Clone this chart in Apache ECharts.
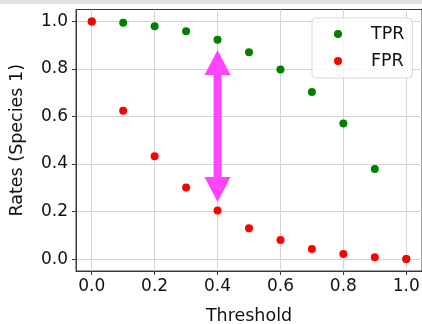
<!DOCTYPE html>
<html>
<head>
<meta charset="utf-8">
<script src="https://cdn.jsdelivr.net/npm/echarts@6/dist/echarts.min.js"></script>
<style>html,body{margin:0;padding:0;background:#fff;}#c{width:422px;height:324px;}</style>
</head>
<body>
<div id="c"></div>
<script>
const thresholds = [0.0, 0.1, 0.2, 0.3, 0.4, 0.5, 0.6, 0.7, 0.8, 0.9, 1.0];
const tprValues = [1.0, 0.994, 0.980, 0.958, 0.923, 0.870, 0.798, 0.703, 0.570, 0.379, 0.0];
const fprValues = [1.0, 0.624, 0.433, 0.301, 0.204, 0.130, 0.080, 0.043, 0.022, 0.008, 0.001];
const xTicks = [0.0, 0.2, 0.4, 0.6, 0.8, 1.0];
const yTicks = [0.0, 0.2, 0.4, 0.6, 0.8, 1.0];
const arrowX = 0.4, arrowFrom = 0.24, arrowTo = 0.88;

const FONT = 'DejaVu Sans';
const chart = echarts.init(document.getElementById('c'), null, {renderer: 'canvas'});

function pairs(xs, ys) { return xs.map((x, i) => [x, ys[i]]); }

const axisCommon = {
  axisLine: {show: true, onZero: false, lineStyle: {color: '#3a3a3a', width: 1}},
  axisTick: {show: true, length: 4, lineStyle: {color: '#3a3a3a', width: 1}},
  splitLine: {show: true, lineStyle: {color: '#d4d4d4', width: 1}},
  nameLocation: 'middle',
  nameTextStyle: {fontFamily: FONT, fontSize: 17.5, color: '#111'}
};

chart.setOption({
  animation: false,
  backgroundColor: '#fff',
  graphic: [{type: 'rect', left: 0, top: 0, shape: {width: 422, height: 4}, style: {fill: '#e2e2e2'}, silent: true}],
  grid: {left: 76, top: 9.5, right: 0, bottom: 53, containLabel: false, outerBoundsMode: 'none',
         show: true, borderColor: '#3a3a3a', borderWidth: 1},
  xAxis: Object.assign({}, axisCommon, {
    type: 'value', min: -0.05, max: 1.05,
    name: 'Threshold', nameGap: 36,
    axisTick: Object.assign({}, axisCommon.axisTick, {customValues: xTicks}),
    axisLabel: {customValues: xTicks, formatter: v => v.toFixed(1), margin: 7,
                fontFamily: FONT, fontSize: 17, color: '#111'}
  }),
  yAxis: Object.assign({}, axisCommon, {
    type: 'value', min: -0.05, max: 1.05,
    name: 'Rates (Species 1)', nameGap: 50,
    axisTick: Object.assign({}, axisCommon.axisTick, {customValues: yTicks}),
    axisLabel: {customValues: yTicks, formatter: v => v.toFixed(1), margin: 8,
                fontFamily: FONT, fontSize: 17, color: '#111'}
  }),
  legend: {
    data: ['TPR', 'FPR'], orient: 'vertical', left: 312, top: 18,
    icon: 'circle', itemWidth: 52, itemHeight: 8, itemGap: 7,
    padding: [6, 8, 7, 22],
    backgroundColor: 'rgba(255,255,255,0.8)', borderColor: '#d8d8d8', borderWidth: 1, borderRadius: 4,
    textStyle: {fontFamily: FONT, fontSize: 17.5, color: '#111', lineHeight: 20, padding: [0, 0, 0, 2]}
  },
  series: [
    {name: 'TPR', type: 'scatter', data: pairs(thresholds, tprValues), symbol: 'circle', symbolSize: 8,
     itemStyle: {color: '#008000', opacity: 1}, z: 3},
    {name: 'FPR', type: 'scatter', data: pairs(thresholds, fprValues), symbol: 'circle', symbolSize: 8,
     itemStyle: {color: '#ff0000', opacity: 1}, z: 4},
    {type: 'custom', z: 5, silent: true,
     data: [[arrowX, arrowFrom, arrowTo]],
     encode: {x: 0, y: [1, 2]},
     renderItem: function (params, api) {
       const x = api.value(0);
       const pb = api.coord([x, api.value(1)]);
       const pt = api.coord([x, api.value(2)]);
       const hl = 25, hw = 13, sw = 4;
       const fill = '#ff44ff';
       return {type: 'group', children: [
         {type: 'rect', shape: {x: pt[0] - sw, y: pt[1] + hl, width: sw * 2, height: (pb[1] - hl) - (pt[1] + hl)}, style: {fill: fill}},
         {type: 'polygon', shape: {points: [[pt[0], pt[1]], [pt[0] - hw, pt[1] + hl], [pt[0] + hw, pt[1] + hl]]}, style: {fill: fill}},
         {type: 'polygon', shape: {points: [[pb[0], pb[1]], [pb[0] - hw, pb[1] - hl], [pb[0] + hw, pb[1] - hl]]}, style: {fill: fill}}
       ]};
     }}
  ]
});
</script>
</body>
</html>
